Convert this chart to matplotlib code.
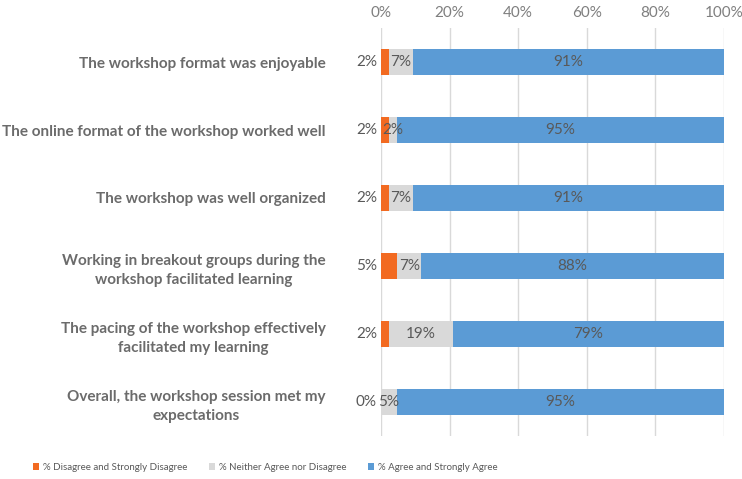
import matplotlib
matplotlib.use("Agg")
import matplotlib.pyplot as plt
from matplotlib.font_manager import FontProperties, fontManager
import numpy as np

categories = [
    "The workshop format was enjoyable",
    "The online format of the workshop worked well",
    "The workshop was well organized",
    "Working in breakout groups during the\nworkshop facilitated learning",
    "The pacing of the workshop effectively\nfacilitated my learning",
    "Overall, the workshop session met my\nexpectations",
]
disagree = [2.3, 2.3, 2.3, 4.7, 2.3, 0.0]
neutral = [7.0, 2.3, 7.0, 7.0, 18.6, 4.7]
agree = [90.7, 95.4, 90.7, 88.3, 79.1, 95.3]
series_names = ["% Disagree and Strongly Disagree",
                "% Neither Agree nor Disagree",
                "% Agree and Strongly Agree"]
xticks = [0, 20, 40, 60, 80, 100]

colors = ["#F26A21", "#D9D9D9", "#5B9BD5"]
txt = "#595959"

plt.rcParams['font.family'] = ['Lato', 'DejaVu Sans']

names = {f.name for f in fontManager.ttflist}
leg_family = ['Liberation Sans Narrow', 'Lato'] if 'Liberation Sans Narrow' in names else ['Lato']
leg_size = 8.5 if 'Liberation Sans Narrow' in names else 7

fig = plt.figure(figsize=(7.42, 4.79), dpi=100)
ax = fig.add_axes([381/742, 1-436/479, (724-381)/742, (436-28)/479])

y = np.arange(len(categories))
h = 0.38
d = np.array(disagree); n = np.array(neutral); a = np.array(agree)
b1 = ax.barh(y, d, height=h, color=colors[0], label=series_names[0], zorder=3)
b2 = ax.barh(y, n, left=d, height=h, color=colors[1], label=series_names[1], zorder=3)
b3 = ax.barh(y, a, left=d+n, height=h, color=colors[2], label=series_names[2], zorder=3)

fs = 11
for i in range(len(categories)):
    ax.text(-1.2, y[i], "%.0f%%" % d[i], ha="right", va="center", fontsize=fs, color=txt)
    ax.text(d[i] + n[i]/2, y[i], "%.0f%%" % n[i], ha="center", va="center", fontsize=fs, color=txt, zorder=4)
    ax.text(d[i] + n[i] + a[i]/2, y[i], "%.0f%%" % a[i], ha="center", va="center", fontsize=fs, color=txt, zorder=4)

ax.set_xlim(0, 100)
ax.set_ylim(len(categories)-0.5, -0.5)
ax.set_xticks(xticks)
ax.set_xticklabels(["%d%%" % t for t in xticks], fontsize=11, color="#7f7f7f")
ax.xaxis.tick_top()
ax.tick_params(axis="x", length=0, pad=6)
ax.set_yticks(y)
ax.set_yticklabels(categories, fontsize=11, fontweight="bold", color="#6b6b6b", linespacing=1.5)
ax.tick_params(axis="y", length=0, pad=40)
for lbl in ax.get_yticklabels():
    lbl.set_horizontalalignment("right")
    lbl.set_multialignment("center")
ax.grid(axis="x", color="#D9D9D9", linewidth=1, zorder=0)
for s in ax.spines.values():
    s.set_visible(False)

fig.legend(handles=[b1, b2, b3], labels=series_names, loc="center",
           bbox_to_anchor=(265/742, 1 - 467/479), ncol=3, frameon=False,
           prop=FontProperties(family=leg_family, size=leg_size),
           labelcolor=txt, handlelength=0.7, handleheight=0.7,
           handletextpad=0.35, columnspacing=2.2)

fig.savefig("out.png", dpi=100)
